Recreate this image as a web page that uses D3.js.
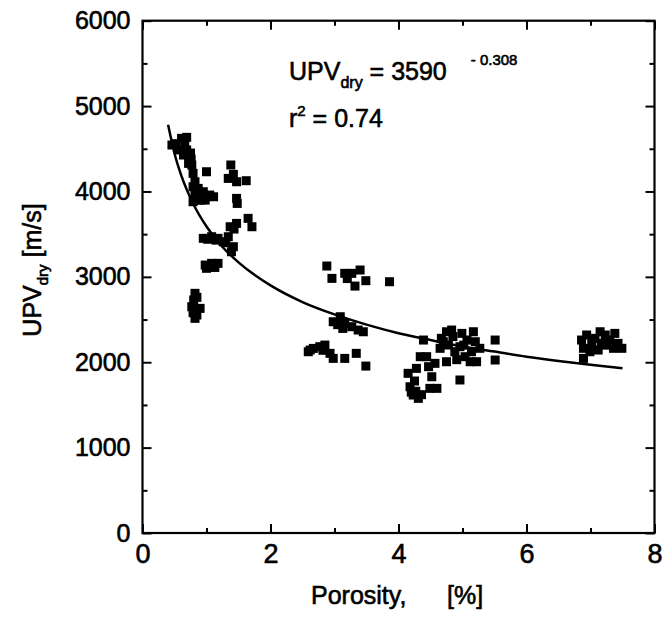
<!DOCTYPE html>
<html>
<head>
<meta charset="utf-8">
<script src="https://cdn.jsdelivr.net/npm/d3@7"></script>
<style>
  body { margin: 0; background: #fff; }
  svg { display: block; }
  text { font-family: "Liberation Sans", Arial, sans-serif; fill: #000; stroke: #000; stroke-width: 0.6px; }
</style>
</head>
<body>
<svg width="664" height="621"></svg>
<script>
// porosity [%] and dry UPV [m/s]
const porosity = [
  0.46, 0.52, 0.61, 0.69, 0.56, 0.69, 0.64, 0.74, 0.75, 0.72, 0.76, 0.77, 0.79, 0.82, 0.79, 0.87,
  0.82, 0.95, 1.05, 0.79, 0.87, 0.98, 1.11, 1.00, 0.90, 0.92, 0.66, 0.84,
  1.38, 1.34, 1.47, 1.62, 1.42, 1.47, 1.48, 1.37, 1.47, 1.65, 1.71, 1.34, 1.42, 1.39, 1.30, 1.43,
  0.95, 1.02, 1.08, 1.15, 1.18, 1.26,
  0.98, 1.00, 1.05, 1.08, 1.13, 1.18,
  0.82, 0.85, 0.80, 0.77, 0.90, 0.79, 0.85, 0.82,
  2.88, 2.96, 3.16, 3.20, 3.27, 3.40, 3.32, 3.49, 3.86,
  2.98, 3.05, 3.09, 3.13, 3.16, 3.27, 3.37, 3.45,
  2.59, 2.62, 2.67, 2.77, 2.82, 2.85, 2.93, 2.98, 3.16, 3.34, 3.49,
  4.39, 4.15, 4.18, 4.20, 4.23, 4.25, 4.31, 4.28, 4.34, 4.44, 4.52, 4.49, 4.60, 4.47, 4.57,
  4.65, 4.67, 4.75, 4.83, 4.78, 4.75, 4.88, 4.91, 4.99, 5.07, 4.96, 5.04, 5.14, 5.22, 5.20,
  5.27, 5.12, 4.96, 5.17, 5.51, 5.51, 4.27, 4.36, 4.70, 4.85, 5.02,
  6.86, 6.89, 6.94, 7.02, 6.99, 7.07, 7.15, 7.23, 7.17, 7.12, 7.25, 7.30, 7.38, 7.43, 7.36,
  7.49, 6.89
];
const upvDry = [
  4544, 4560, 4622, 4634, 4486, 4486, 4427, 4407, 4450, 4329, 4380, 4310, 4212, 4114, 4055, 4036,
  3958, 3997, 3958, 3880, 3899, 3899, 3938, 4231, 3950, 3900, 4560, 4000,
  4310, 4153, 4114, 4126, 4200, 3919, 3860, 3587, 3626, 3685, 3587, 3470, 3353, 3294, 3400, 3560,
  3451, 3440, 3470, 3430, 3451, 3411,
  3138, 3100, 3120, 3158, 3110, 3158,
  2807, 2760, 2729, 2650, 2631, 2580, 2553, 2514,
  3127, 2982, 3041, 2980, 3041, 3080, 2892, 2955, 2943,
  2474, 2440, 2533, 2396, 2455, 2416, 2377, 2357,
  2123, 2143, 2162, 2182, 2140, 2201, 2104, 2045, 2045, 2104, 1955,
  2260, 1870, 1713, 1650, 1616, 1780, 1577, 1928, 2065, 2065, 1830, 1694, 1694, 1948, 1987,
  2163, 2280, 2357, 2377, 2202, 2006, 2123, 2030, 2338, 2260, 2182, 2065, 2123, 2006, 2240,
  2163, 2006, 1792, 2357, 2260, 2026, 1660, 1620, 2240, 2300, 2200,
  2260, 2163, 2319, 2221, 2123, 2280, 2357, 2319, 2221, 2143, 2200, 2260, 2338, 2221, 2163,
  2163, 2045
];

// fitted power-law curve
const fitPorosity = [0.4, 0.5, 0.6, 0.8, 1.0, 1.25, 1.5, 2, 2.5, 3, 3.5, 4, 4.5, 5, 5.5, 6, 6.5, 7, 7.5];
const fitUpv = [4780, 4445, 4200, 3845, 3590, 3350, 3170, 2900, 2705, 2560, 2440, 2340, 2260, 2185, 2125, 2065, 2015, 1970, 1930];

const xMajor = [0, 2, 4, 6, 8];
const xMinor = [1, 3, 5, 7];
const yMajor = [0, 1000, 2000, 3000, 4000, 5000, 6000];
const yMinor = [500, 1500, 2500, 3500, 4500, 5500];

const svg = d3.select("svg");

const mLeft = 142.5, mRight = 654.5, mTop = 20.7, mBottom = 533;
const x = d3.scaleLinear().domain([0, 8]).range([mLeft, mRight]);
const y = d3.scaleLinear().domain([0, 6000]).range([mBottom, mTop]);

const fontSize = 25;

// points
const pts = porosity.map((p, i) => ({ p: p, v: upvDry[i] }));
const sq = 9;
svg.append("g")
  .selectAll("rect")
  .data(pts)
  .join("rect")
  .attr("x", d => x(d.p) - sq / 2)
  .attr("y", d => y(d.v) - sq / 2)
  .attr("width", sq)
  .attr("height", sq)
  .attr("fill", "#000");

// fit line
const fit = fitPorosity.map((p, i) => [p, fitUpv[i]]);
svg.append("path")
  .datum(fit)
  .attr("fill", "none")
  .attr("stroke", "#000")
  .attr("stroke-width", 2.5)
  .attr("d", d3.line().x(d => x(d[0])).y(d => y(d[1])).curve(d3.curveMonotoneX));

// axes (ticks point inward)
function styleAxis(g) {
  g.select(".domain").remove();
  g.selectAll("line").attr("stroke", "#000").attr("stroke-width", 2);
  g.selectAll("text").attr("font-size", fontSize).attr("fill", "#000")
    .attr("font-family", "Liberation Sans, Arial, sans-serif");
}

svg.append("g").attr("transform", `translate(0,${mBottom})`)
  .call(d3.axisBottom(x).tickValues(xMajor).tickSizeInner(-9).tickSizeOuter(0).tickPadding(11).tickFormat(d3.format("d")))
  .call(styleAxis)
  .call(g => g.selectAll("text").attr("font-size", 27));
svg.append("g").attr("transform", `translate(0,${mBottom})`)
  .call(d3.axisBottom(x).tickValues(xMinor).tickSizeInner(-5).tickSizeOuter(0).tickFormat(""))
  .call(styleAxis);
svg.append("g").attr("transform", `translate(0,${mTop})`)
  .call(d3.axisTop(x).tickValues(xMajor).tickSizeInner(-9).tickSizeOuter(0).tickFormat(""))
  .call(styleAxis);
svg.append("g").attr("transform", `translate(0,${mTop})`)
  .call(d3.axisTop(x).tickValues(xMinor).tickSizeInner(-5).tickSizeOuter(0).tickFormat(""))
  .call(styleAxis);

svg.append("g").attr("transform", `translate(${mLeft},0)`)
  .call(d3.axisLeft(y).tickValues(yMajor).tickSizeInner(-9).tickSizeOuter(0).tickPadding(12).tickFormat(d3.format("d")))
  .call(styleAxis);
svg.append("g").attr("transform", `translate(${mLeft},0)`)
  .call(d3.axisLeft(y).tickValues(yMinor).tickSizeInner(-5).tickSizeOuter(0).tickFormat(""))
  .call(styleAxis);
svg.append("g").attr("transform", `translate(${mRight},0)`)
  .call(d3.axisRight(y).tickValues(yMajor).tickSizeInner(-9).tickSizeOuter(0).tickFormat(""))
  .call(styleAxis);
svg.append("g").attr("transform", `translate(${mRight},0)`)
  .call(d3.axisRight(y).tickValues(yMinor).tickSizeInner(-5).tickSizeOuter(0).tickFormat(""))
  .call(styleAxis);

// frame
svg.append("rect")
  .attr("x", mLeft).attr("y", mTop)
  .attr("width", mRight - mLeft).attr("height", mBottom - mTop)
  .attr("fill", "none").attr("stroke", "#000").attr("stroke-width", 2.2);

// axis titles
const xt = svg.append("text")
  .attr("x", 311).attr("y", 604)
  .attr("font-size", fontSize)
  .style("white-space", "pre");
xt.append("tspan").text("Porosity,");
xt.append("tspan").attr("x", 447).text("[%]");

const yt = svg.append("text")
  .attr("transform", "translate(41,270) rotate(-90)")
  .attr("text-anchor", "middle")
  .attr("font-size", fontSize);
yt.append("tspan").text("UPV");
yt.append("tspan").attr("font-size", 15).attr("dy", 7).text("dry");
yt.append("tspan").attr("dy", -7).text(" [m/s]");

// annotation
const eq = svg.append("text")
  .attr("x", 289).attr("y", 80)
  .attr("font-size", fontSize);
eq.append("tspan").text("UPV");
eq.append("tspan").attr("font-size", 16).attr("dy", 8).text("dry");
eq.append("tspan").attr("dy", -8).text(" = 3590");
eq.append("tspan").attr("font-size", 15).attr("dx", 24).attr("dy", -15).text("- 0.308");

const r2 = svg.append("text")
  .attr("x", 289).attr("y", 127)
  .attr("font-size", fontSize);
r2.append("tspan").text("r");
r2.append("tspan").attr("font-size", 15).attr("dy", -11).text("2");
r2.append("tspan").attr("dy", 11).text(" = 0.74");
</script>
</body>
</html>
